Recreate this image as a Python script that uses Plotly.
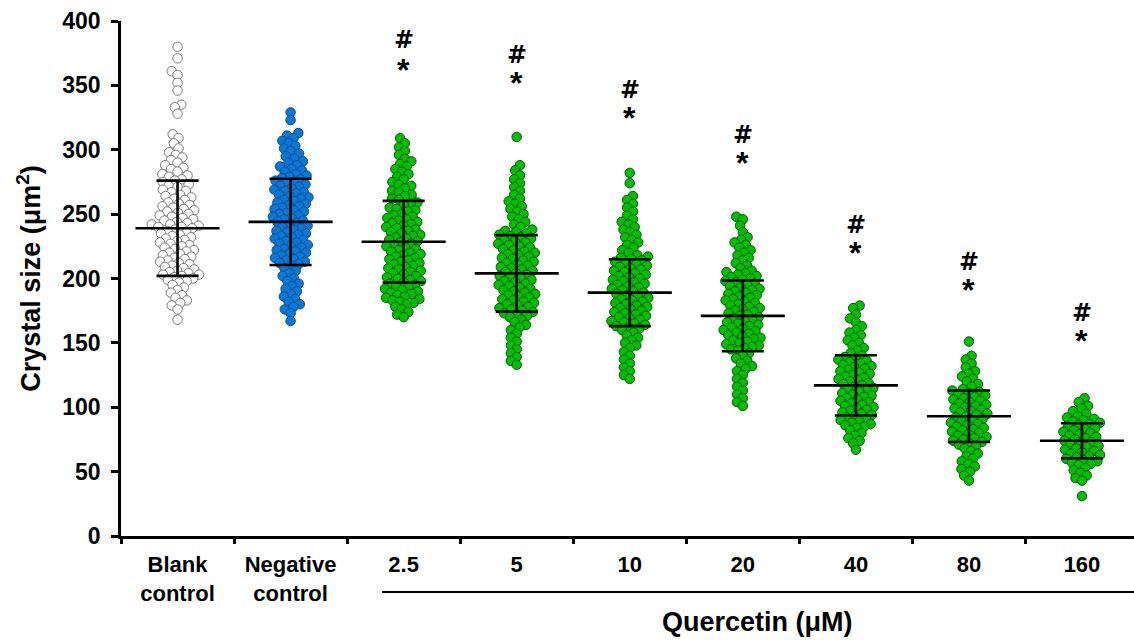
import math
import plotly.graph_objects as go

categories = ["Blank<br>control", "Negative<br>control", "2.5", "5", "10", "20", "40", "80", "160"]

blank_control = [380,371,361,358,352,346,335,333,328,312,309,305,301,298,296,294,292,290,288,286,285,283,281,280,279,277,276,275,273,272,271,269,268,267,265,264,263,262,261,259,258,257,256,255,254,253,252,251,250,249,248,247,246,245,244,243,242,242,241,240,240,239,238,237,236,235,234,233,232,231,230,229,228,227,226,225,224,223,222,221,220,219,218,217,216,215,214,213,212,211,210,209,208,207,206,205,204,203,203,202,201,200,199,198,197,195,193,191,189,187,185,183,181,179,176,168]
negative_control = [329,323,313,311,309,307,305,303,301,299,297,295,293,291,290,288,287,285,284,283,281,280,279,278,277,276,275,274,273,272,271,270,269,268,267,266,265,264,263,262,261,260,259,258,257,256,255,254,253,252,251,250,249,248,247,246,245,244,243,242,241,240,239,238,237,236,235,234,233,232,231,230,229,228,227,226,225,224,223,222,221,220,219,218,217,216,215,214,213,212,211,210,208,206,204,202,200,198,196,194,192,190,188,186,184,182,180,178,176,173,167]
q_2_5 = [309,305,302,299,296,293,291,289,287,285,283,281,279,277,275,273,272,270,268,267,265,264,262,261,259,258,257,255,254,253,252,250,249,248,247,246,245,244,243,242,241,240,239,238,237,236,235,234,233,232,231,230,229,228,227,226,225,224,223,222,221,220,219,218,217,216,215,214,213,212,211,210,209,208,207,206,205,204,203,202,201,200,199,198,197,196,195,194,193,192,191,190,189,188,187,186,185,184,183,182,181,180,178,176,174,172,170]
q_5 = [310,288,284,280,277,274,271,268,265,262,260,258,256,254,252,250,248,246,244,242,240,238,237,236,235,234,233,232,231,230,229,228,227,226,225,224,223,222,221,220,219,218,217,216,215,214,213,212,211,210,209,208,207,206,205,204,203,202,201,200,199,198,197,196,195,194,193,192,191,190,189,188,187,186,185,184,183,182,181,180,179,178,177,176,175,174,173,172,171,170,168,166,164,162,160,157,154,151,148,145,142,139,136,133]
q_10 = [282,274,264,261,258,255,252,249,246,244,242,240,238,236,234,232,230,228,226,224,222,220,218,217,216,215,214,213,212,211,210,209,208,207,206,205,204,203,202,201,200,199,198,197,196,195,194,193,192,191,190,189,188,187,186,185,184,183,182,181,180,179,178,177,176,175,174,173,172,171,170,169,168,167,166,165,164,163,162,161,160,158,156,154,152,150,148,146,143,140,137,134,131,128,125,122]
q_20 = [248,246,241,236,232,230,228,226,224,222,220,218,216,214,212,210,208,206,205,204,203,202,201,200,199,198,197,196,195,194,193,192,191,190,189,188,187,186,185,184,183,182,181,180,179,178,177,176,175,174,173,172,171,170,169,168,167,166,165,164,163,162,161,160,159,158,157,156,155,154,153,152,151,150,149,148,147,146,145,144,142,140,138,136,134,132,130,128,125,122,119,116,113,110,107,104,101]
q_40 = [179,177,172,169,166,163,160,158,156,154,152,150,148,146,144,142,140,139,138,137,136,135,134,133,132,131,130,129,128,127,126,125,124,123,122,121,120,119,118,117,116,115,114,113,112,111,110,109,108,107,106,105,104,103,102,101,100,99,98,97,96,95,94,93,92,91,90,89,88,87,86,85,84,82,80,78,76,74,72,67]
q_80 = [151,140,137,134,131,128,126,124,122,120,118,116,114,113,112,111,110,109,108,107,106,105,104,103,102,101,100,99,98,97,96,95,94,93,92,91,90,89,88,87,86,85,84,83,82,81,80,79,78,77,76,75,74,73,72,71,70,68,66,64,62,60,58,56,54,52,50,47,43]
q_160 = [107,104,101,99,97,95,93,92,91,90,89,88,87,86,85,84,83,82,81,80,79,78,77,76,75,74,73,72,71,70,69,68,67,66,65,64,63,62,61,60,59,58,57,56,55,53,51,49,47,45,43,31]

groups = [blank_control, negative_control, q_2_5, q_5, q_10, q_20, q_40, q_80, q_160]

means = [239, 244, 228.6, 204, 189, 171, 117, 93, 74]
sds = [37, 33.5, 31.7, 29.7, 26, 27.5, 23.4, 20, 13.6]

hash_y = [None, None, 385, 373.5, 346.5, 311.5, 241.5, 212.5, 173]
star_y = [None, None, 362, 351.5, 325, 290, 220, 191, 151.5]

# layout geometry
W, H = 1134, 640
ML, MR, MT, MB = 121, 0, 21, 104
XMIN, XMAX = -0.5, 8.46
px_per_x = (W - ML - MR) / (XMAX - XMIN)
px_per_y = (H - MT - MB) / 400.0


def swarm(vals, d=7.0):
    order = sorted(range(len(vals)), key=lambda k: vals[k])
    placed = []
    offs = [0.0] * len(vals)
    for k in order:
        y = vals[k] * px_per_y
        cands = [0.0]
        near = [(px, py) for (px, py) in placed if abs(py - y) < d]
        for (px, py) in near:
            dx = math.sqrt(max(d * d - (py - y) ** 2, 0.0))
            cands += [px + dx, px - dx]
        cands.sort(key=lambda c: (abs(c), c))
        for c in cands:
            if all((c - px) ** 2 + (y - py) ** 2 >= d * d - 1e-6 for (px, py) in near):
                offs[k] = c
                placed.append((c, y))
                break
    return [o / px_per_x for o in offs]


fig = go.Figure()

styles = [
    dict(color="white", line=dict(color="#7a7a7a", width=1)),
    dict(color="#0a78d8", line=dict(color="#0b4f8a", width=1)),
] + [dict(color="#00c000", line=dict(color="#0a5a0a", width=1))] * 7

for i, vals in enumerate(groups):
    offs = swarm(vals, 7.0)
    fig.add_trace(go.Scatter(
        x=[i + o for o in offs], y=vals, mode="markers",
        marker=dict(size=9.5, **styles[i]), showlegend=False, hoverinfo="y"))

# mean and SD lines
lx, ly = [], []
for i, (m, s) in enumerate(zip(means, sds)):
    lx += [i - 0.372, i + 0.372, None, i, i, None, i - 0.186, i + 0.186, None, i - 0.186, i + 0.186, None]
    ly += [m, m, None, m - s, m + s, None, m + s, m + s, None, m - s, m - s, None]
fig.add_trace(go.Scatter(x=lx, y=ly, mode="lines", line=dict(color="black", width=2.6),
                         showlegend=False, hoverinfo="skip"))

FONT = "Liberation Sans, Arial, sans-serif"

for i in range(len(categories)):
    if hash_y[i] is not None:
        fig.add_annotation(x=i, y=hash_y[i], text="<b>#</b>", showarrow=False, xref="x", yref="y",
                           yanchor="middle",
                           font=dict(family="DejaVu Sans", size=24, color="black", weight="bold"))
        fig.add_annotation(x=i, y=star_y[i], text="<b>*</b>", showarrow=False, xref="x", yref="y",
                           yanchor="middle",
                           font=dict(family=FONT, size=32, color="black"))

# group bracket and label
fig.add_shape(type="line", xref="x", yref="paper", x0=1.81, x1=XMAX, y0=-0.1087, y1=-0.1087,
              line=dict(color="black", width=2))
fig.add_annotation(x=5.13, y=-0.167, xref="x", yref="paper", text="<b>Quercetin (μM)</b>",
                   showarrow=False, yanchor="middle",
                   font=dict(family=FONT, size=27, color="black"))

fig.update_layout(
    width=W, height=H,
    margin=dict(l=ML, r=MR, t=MT, b=MB, autoexpand=False),
    plot_bgcolor="white", paper_bgcolor="white",
    xaxis=dict(range=[XMIN, XMAX], tickmode="array", tickvals=list(range(len(categories))),
               ticktext=["<b>" + c.replace("<br>", "</b><br><b>") + "</b>" for c in categories],
               ticks="", showline=True, linecolor="black", linewidth=2.5, ticklabelstandoff=7,
               showgrid=False, zeroline=False, automargin=False,
               tickfont=dict(family=FONT, size=22, color="black")),
    xaxis2=dict(range=[XMIN, XMAX], overlaying="x", anchor="y", side="bottom",
                tickmode="array", tickvals=[i + 0.5 for i in range(-1, len(categories))],
                showticklabels=False, ticks="outside", ticklen=7, tickwidth=2.5,
                tickcolor="black", showgrid=False, zeroline=False, showline=False, automargin=False),
    yaxis=dict(range=[0, 400], tickmode="array", tickvals=[0, 50, 100, 150, 200, 250, 300, 350, 400],
               ticktext=["<b>%d</b>" % v for v in [0, 50, 100, 150, 200, 250, 300, 350, 400]],
               ticks="outside", ticklen=7, tickwidth=2.5, tickcolor="black", ticklabelstandoff=6,
               showline=True, linecolor="black", linewidth=2.5, showgrid=False, zeroline=False,
               automargin=False,
               tickfont=dict(family=FONT, size=23, color="black"),
               title=dict(text="<b>Crystal size (μm<sup>2</sup>)</b>",
                          font=dict(family=FONT, size=27, color="black"),
                          standoff=14)),
)
fig.add_trace(go.Scatter(x=[XMIN], y=[None], xaxis="x2", showlegend=False, hoverinfo="skip"))

fig.write_html("out.html", config={"displayModeBar": False},
               post_script="document.body.style.margin='0px';")
